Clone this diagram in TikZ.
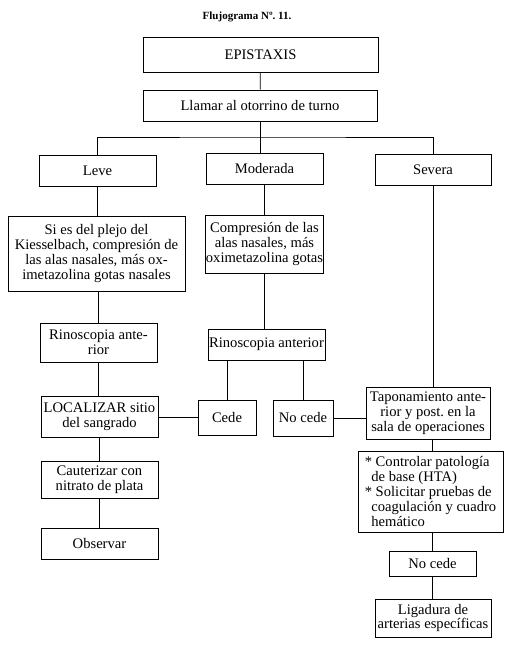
\documentclass[tikz,border=0pt]{standalone}
\usepackage{fontspec}
\setmainfont{Liberation Serif}
\usetikzlibrary{positioning,calc}
\frenchspacing

\begin{document}
\begin{tikzpicture}[
    x=1pt, y=-1pt,
    font=\fontsize{14.6}{14.8}\selectfont,
    box/.style={rectangle, draw, line width=0.8pt, align=center, inner sep=0.5pt},
    line/.style={draw, line width=0.8pt}
]
    \useasboundingbox (0,0) rectangle (511,650);

    \node [font=\fontsize{11}{13}\selectfont\bfseries] (title) at (247,17) {Flujograma Nº. 11.};

    \node [box, minimum width=235, minimum height=35] (epi) at (260.5,54.5) {EPISTAXIS};
    \node [box, minimum width=234, minimum height=31] (llamar) at (260,105.5) {Llamar al otorrino de turno};
    \coordinate (bus) at (260,137);

    \node [box, minimum width=117, minimum height=31] (leve) at (97.5,170.5) {Leve};
    \node [box, minimum width=117, minimum height=31] (moderada) at (264.5,168.5) {Moderada};
    \node [box, minimum width=116, minimum height=31] (severa) at (433,169.5) {Severa};

    \node [box, minimum width=177, minimum height=75] (plejo) at (96.5,253.5)
        {Si es del plejo del\\Kiesselbach, compresión de\\las alas nasales, más ox-\\imetazolina gotas nasales};
    \node [box, minimum width=117, minimum height=39] (rinoL) at (98.5,342.5) {Rinoscopia ante-\\rior};
    \node [box, minimum width=117, minimum height=41] (localizar) at (99.5,416.5) {LOCALIZAR sitio\\del sangrado};
    \node [box, minimum width=117, minimum height=37] (cauter) at (99.5,479.5) {Cauterizar con\\nitrato de plata};
    \node [box, minimum width=117, minimum height=31] (observar) at (99.5,543.5) {Observar};

    \node [box, minimum width=117, minimum height=58] (compresion) at (264.5,244)
        {Compresión de las\\alas nasales, más\\oximetazolina gotas};
    \node [box, minimum width=117, minimum height=31] (rinoM) at (266.5,344.5) {Rinoscopia anterior};
    \node [box, minimum width=58, minimum height=35] (cede) at (227,417.5) {Cede};
    \node [box, minimum width=60, minimum height=36] (nocede) at (303,418) {No cede};

    \node [box, minimum width=124, minimum height=52] (tapon) at (428,413)
        {Taponamiento ante-\\rior y post. en la\\sala de operaciones};
    \node [box, align=left, minimum width=145, minimum height=81] (control) at (430.5,491.5)
        {* Controlar patología\\\hspace*{0.45em}de base (HTA)\\* Solicitar pruebas de\\\hspace*{0.45em}coagulación y cuadro\\\hspace*{0.45em}hemático};
    \node [box, minimum width=87, minimum height=25] (nocedeB) at (432.5,563.5) {No cede};
    \node [box, minimum width=116, minimum height=38] (ligadura) at (433,618) {Ligadura de\\arterias específicas};

    \path [line] (epi) -- (llamar);
    \path [line] (llamar) -- (bus);
    \path [line] (leve.north) |- (bus) -| (severa.north);
    \path [line] (bus) -- (bus |- moderada.north);

    \path [line] (leve) -- (leve |- plejo.north);
    \path [line] (rinoL |- plejo.south) -- (rinoL);
    \path [line] (rinoL) -- (rinoL |- localizar.north);
    \path [line] (localizar) -- (localizar |- cauter.north);
    \path [line] (cauter) -- (observar);

    \path [line] (moderada) -- (compresion);
    \path [line] (compresion.south) -- (compresion.south |- rinoM.north);
    \path [line] (cede.north |- rinoM.south) -- (cede.north);
    \path [line] (nocede.north |- rinoM.south) -- (nocede.north);
    \path [line] (localizar.east |- cede.west) -- (cede.west);
    \path [line] (nocede.east) -- (nocede.east -| tapon.west);

    \path [line] (severa.south) -- (severa.south |- tapon.north);
    \path [line] (tapon.south -| nocedeB) -- (nocedeB |- control.north);
    \path [line] (control.south -| nocedeB) -- (nocedeB);
    \path [line] (nocedeB) -- (nocedeB |- ligadura.north);
\end{tikzpicture}
\end{document}
